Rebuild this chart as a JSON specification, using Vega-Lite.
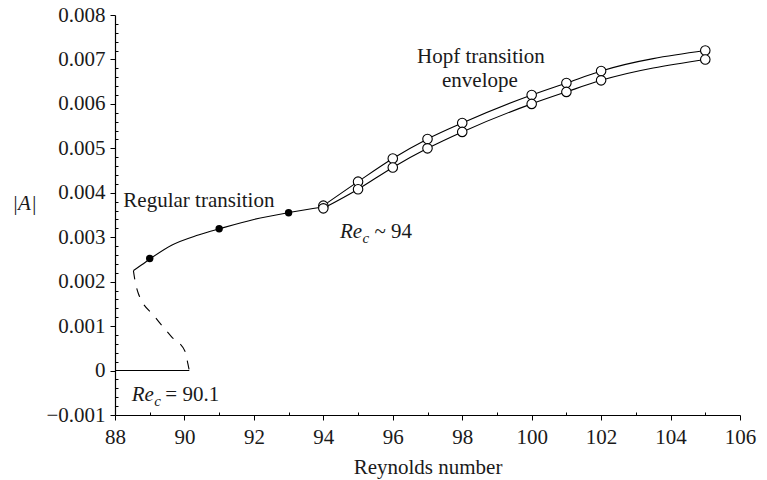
{
  "$schema": "https://vega.github.io/schema/vega-lite/v6.json",
  "width": 625,
  "height": 400,
  "autosize": {"type": "none"},
  "padding": {"left": 115, "top": 15, "right": 27, "bottom": 65},
  "background": "white",
  "config": {
    "view": {"stroke": null},
    "font": "Liberation Serif",
    "axis": {
      "labelFont": "Liberation Serif",
      "titleFont": "Liberation Serif",
      "labelFontSize": 21,
      "titleFontSize": 21,
      "labelColor": "#1a1a1a",
      "titleColor": "#1a1a1a",
      "domainColor": "black",
      "tickColor": "black",
      "grid": false,
      "titleFontWeight": "normal",
      "tickSize": 5,
      "domainWidth": 1.2
    }
  },
  "resolve": {"axis": {"x": "independent", "y": "independent"}},
  "datasets": {
    "curves": [
      {"series": "branch", "x": 88.53, "y": 0.00225},
      {"series": "branch", "x": 88.77, "y": 0.00238},
      {"series": "branch", "x": 89.04, "y": 0.00253},
      {"series": "branch", "x": 89.63, "y": 0.00282},
      {"series": "branch", "x": 90.4, "y": 0.00305},
      {"series": "branch", "x": 91.05, "y": 0.0032},
      {"series": "branch", "x": 92.0, "y": 0.0034},
      {"series": "branch", "x": 93.05, "y": 0.00356},
      {"series": "branch", "x": 94.0, "y": 0.00368},
      {"series": "zero", "x": 88.0, "y": 0.0},
      {"series": "zero", "x": 90.14, "y": 0.0},
      {"series": "upper", "x": 94, "y": 0.00371},
      {"series": "upper", "x": 95, "y": 0.00425},
      {"series": "upper", "x": 96, "y": 0.00477},
      {"series": "upper", "x": 97, "y": 0.00521},
      {"series": "upper", "x": 98, "y": 0.00557},
      {"series": "upper", "x": 100, "y": 0.0062},
      {"series": "upper", "x": 101, "y": 0.00647},
      {"series": "upper", "x": 102, "y": 0.00674},
      {"series": "upper", "x": 105, "y": 0.0072},
      {"series": "lower", "x": 94, "y": 0.00365},
      {"series": "lower", "x": 95, "y": 0.00408},
      {"series": "lower", "x": 96, "y": 0.00457},
      {"series": "lower", "x": 97, "y": 0.005},
      {"series": "lower", "x": 98, "y": 0.00537},
      {"series": "lower", "x": 100, "y": 0.006},
      {"series": "lower", "x": 101, "y": 0.00627},
      {"series": "lower", "x": 102, "y": 0.00653},
      {"series": "lower", "x": 105, "y": 0.007}
    ],
    "dashed": [
      {"x": 88.53, "y": 0.00225},
      {"x": 88.57, "y": 0.00205},
      {"x": 88.67, "y": 0.00174},
      {"x": 89.15, "y": 0.00121},
      {"x": 89.63, "y": 0.00076},
      {"x": 90.02, "y": 0.00043},
      {"x": 90.1, "y": 0.00015},
      {"x": 90.14, "y": 0.0}
    ],
    "filled": [
      {"x": 89, "y": 0.00252},
      {"x": 91, "y": 0.00319},
      {"x": 93, "y": 0.00355}
    ],
    "labels": [
      {"text": "Regular transition", "x": 88.24, "y": 0.00369, "kind": "left"},
      {"text": "Hopf transition", "x": 98.54, "y": 0.00692, "kind": "center"},
      {"text": "envelope", "x": 98.51, "y": 0.00638, "kind": "center"},
      {"text": "Re", "x": 88.48, "y": -0.00068, "kind": "italic"},
      {"text": "c", "x": 89.13, "y": -0.00079, "kind": "sub"},
      {"text": "= 90.1", "x": 89.45, "y": -0.00068, "kind": "left"},
      {"text": "Re", "x": 94.48, "y": 0.00298, "kind": "italic"},
      {"text": "c", "x": 95.13, "y": 0.00287, "kind": "sub"},
      {"text": "~ 94", "x": 95.47, "y": 0.00298, "kind": "left"}
    ]
  },
  "encoding": {
    "x": {
      "field": "x", "type": "quantitative",
      "scale": {"domain": [88, 106], "nice": false, "zero": false},
      "axis": null
    },
    "y": {
      "field": "y", "type": "quantitative",
      "scale": {"domain": [-0.001, 0.008], "nice": false, "zero": false},
      "axis": null
    }
  },
  "layer": [
    {
      "data": {"name": "curves"},
      "mark": {"type": "line", "color": "black", "strokeWidth": 1.1, "interpolate": "monotone"},
      "encoding": {
        "detail": {"field": "series"},
        "x": {
          "field": "x", "type": "quantitative",
          "scale": {"domain": [88, 106], "nice": false, "zero": false},
          "axis": {"title": "Reynolds number", "values": [88, 90, 92, 94, 96, 98, 100, 102, 104, 106], "labelPadding": 6, "titlePadding": 9, "labelFlush": false}
        },
        "y": {
          "field": "y", "type": "quantitative",
          "scale": {"domain": [-0.001, 0.008], "nice": false, "zero": false},
          "axis": {
            "title": "|A|",
            "titleAngle": 0,
            "titleFontStyle": "italic",
            "titleX": -91,
            "titleY": 188,
            "titleAlign": "center",
            "titleBaseline": "middle",
            "values": [-0.001, 0, 0.001, 0.002, 0.003, 0.004, 0.005, 0.006, 0.007, 0.008],
            "labelExpr": "datum.value == 0 ? '0' : format(datum.value, '.3f')",
            "labelPadding": 5,
            "labelFlush": false
          }
        }
      }
    },
    {
      "data": {"name": "dashed"},
      "mark": {"type": "line", "color": "black", "strokeWidth": 1.1, "strokeDash": [9, 9], "interpolate": "monotone"},
      "encoding": {
        "x": {
          "field": "x", "type": "quantitative",
          "scale": {"domain": [88, 106], "nice": false, "zero": false},
          "axis": {"orient": "bottom", "title": null, "labels": false, "domain": false, "tickSize": -3, "values": [89, 91, 93, 95, 97, 99, 101, 103, 105]}
        },
        "y": {
          "field": "y", "type": "quantitative",
          "scale": {"domain": [-0.001, 0.008], "nice": false, "zero": false},
          "axis": {"orient": "left", "title": null, "labels": false, "domain": false, "tickSize": -3,
            "values": [-0.0008, -0.0006, -0.0004, -0.0002, 0.0002, 0.0004, 0.0006, 0.0008, 0.0012, 0.0014, 0.0016, 0.0018, 0.0022, 0.0024, 0.0026, 0.0028, 0.0032, 0.0034, 0.0036, 0.0038, 0.0042, 0.0044, 0.0046, 0.0048, 0.0052, 0.0054, 0.0056, 0.0058, 0.0062, 0.0064, 0.0066, 0.0068, 0.0072, 0.0074, 0.0076, 0.0078]}
        }
      }
    },
    {
      "data": {"name": "curves"},
      "transform": [{"filter": "datum.series == 'upper' || datum.series == 'lower'"}],
      "mark": {"type": "point", "shape": "circle", "size": 90, "filled": true, "fill": "white", "stroke": "black", "strokeWidth": 1.1, "opacity": 1},
      "encoding": {}
    },
    {
      "data": {"name": "filled"},
      "mark": {"type": "point", "shape": "circle", "size": 55, "filled": true, "color": "black", "opacity": 1},
      "encoding": {}
    },
    {
      "data": {"name": "labels"},
      "transform": [{"filter": "datum.kind == 'left'"}],
      "mark": {"type": "text", "baseline": "alphabetic", "align": "left", "font": "Liberation Serif", "fontSize": 21, "color": "#1a1a1a"},
      "encoding": {"text": {"field": "text"}}
    },
    {
      "data": {"name": "labels"},
      "transform": [{"filter": "datum.kind == 'center'"}],
      "mark": {"type": "text", "baseline": "alphabetic", "align": "center", "font": "Liberation Serif", "fontSize": 21, "color": "#1a1a1a"},
      "encoding": {"text": {"field": "text"}}
    },
    {
      "data": {"name": "labels"},
      "transform": [{"filter": "datum.kind == 'italic'"}],
      "mark": {"type": "text", "baseline": "alphabetic", "align": "left", "font": "Liberation Serif", "fontStyle": "italic", "fontSize": 21, "color": "#1a1a1a"},
      "encoding": {"text": {"field": "text"}}
    },
    {
      "data": {"name": "labels"},
      "transform": [{"filter": "datum.kind == 'sub'"}],
      "mark": {"type": "text", "baseline": "alphabetic", "align": "left", "font": "Liberation Serif", "fontStyle": "italic", "fontSize": 15, "color": "#1a1a1a"},
      "encoding": {"text": {"field": "text"}}
    }
  ]
}
